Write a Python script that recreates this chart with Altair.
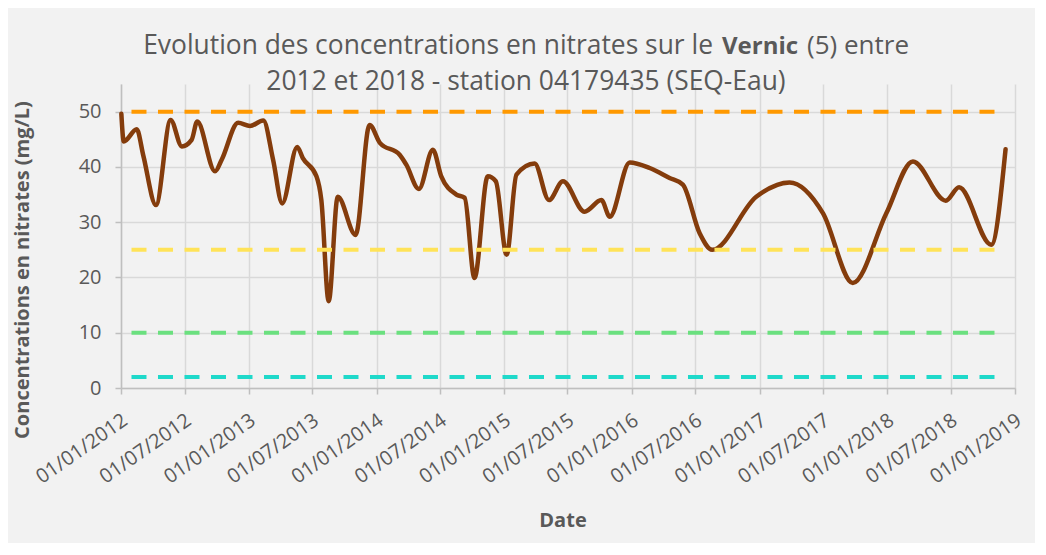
import altair as alt
import pandas as pd

# ---- data ----
dates = [
    "2012-01-02", "2012-01-09", "2012-02-15", "2012-03-05", "2012-04-10", "2012-05-22",
    "2012-06-23", "2012-07-21", "2012-08-06", "2012-09-26", "2012-10-15", "2012-12-01",
    "2013-01-04", "2013-02-11", "2013-03-11", "2013-04-06", "2013-05-19", "2013-06-04",
    "2013-07-13", "2013-07-27", "2013-08-17", "2013-09-12", "2013-11-02", "2013-12-12",
    "2014-01-11", "2014-03-08", "2014-03-27", "2014-05-02", "2014-06-11", "2014-07-05",
    "2014-08-17", "2014-09-10", "2014-10-08", "2014-11-15", "2014-12-08", "2015-01-08",
    "2015-02-05", "2015-03-29", "2015-05-09", "2015-06-18", "2015-08-19", "2015-10-06",
    "2015-10-30", "2015-12-26", "2016-02-21", "2016-04-18", "2016-05-26", "2016-07-13",
    "2016-08-18", "2016-12-22", "2017-03-27", "2017-07-01", "2017-09-24", "2017-12-29",
    "2018-03-15", "2018-06-17", "2018-07-25", "2018-10-25", "2018-12-05",
]
nitrates = [
    49.6, 44.6, 46.8, 42.0, 33.1, 48.5,
    43.7, 44.9, 48.2, 39.2, 41.3, 48.0,
    47.4, 48.4, 41.3, 33.4, 43.6, 41.6,
    38.3, 34.0, 15.7, 34.6, 27.7, 47.6,
    44.3, 42.2, 40.4, 36.0, 43.1, 38.3,
    35.0, 34.4, 19.9, 38.3, 37.4, 24.1,
    38.6, 40.6, 34.0, 37.4, 31.9, 34.0,
    31.0, 40.8, 39.8, 38.0, 36.8, 28.0,
    25.0, 34.6, 37.2, 31.6, 19.0, 31.6,
    41.0, 33.9, 36.3, 25.9, 43.2,
]

threshold_names = ["50 mg/L", "25 mg/L", "10 mg/L", "2 mg/L"]
threshold_values = [50, 25, 10, 2]
threshold_colors = ["#FF9900", "#FFE358", "#6BE07F", "#1FD9CA"]
threshold_start = "2012-01-31"
threshold_end = "2018-11-08"

x_tick_years_months = [(y, m) for y in range(2012, 2019) for m in (1, 7)] + [(2019, 1)]
y_tick_values = [0, 5, 10, 15, 20, 25, 30, 35, 40, 45, 50, 55]

title_part1 = "Evolution des concentrations en nitrates sur le"
title_bold = "Vernic"
title_part3 = "(5) entre"
title_line2 = "2012 et 2018 - station 04179435 (SEQ-Eau)"
y_title = "Concentrations en nitrates (mg/L)"
x_title = "Date"

FONT = "Open Sans"
GREY = "#595959"

df = pd.DataFrame({"date": dates, "value": nitrates})
thr = pd.DataFrame({
    "name": threshold_names,
    "value": threshold_values,
    "start": [threshold_start] * 4,
    "end": [threshold_end] * 4,
})

x_scale = alt.Scale(
    type="utc",
    domain=[alt.DateTime(year=2012, month=1, date=1, utc=True),
            alt.DateTime(year=2019, month=1, date=1, utc=True)],
    nice=False,
)
y_scale = alt.Scale(domain=[0, 55], nice=False, zero=True)

x_axis = alt.Axis(
    values=[alt.DateTime(year=y, month=m, date=1, utc=True) for y, m in x_tick_years_months],
    labelExpr="utcFormat(datum.value, '%d/%m/%Y')",
    labelAngle=325, labelAlign="right", labelBaseline="middle",
    labelFont=FONT, labelFontSize=20, labelColor=GREY,
    labelPadding=24, labelOffset=4, labelFlush=False, labelOverlap=False, labelBound=False,
    tickSize=6, tickColor="#BFBFBF", tickWidth=1.5,
    domainColor="#BFBFBF", domainWidth=1.5,
    grid=True, gridColor="#D9D9D9", gridWidth=1.5,
    title=None,
)
y_axis = alt.Axis(
    values=y_tick_values,
    labelExpr="(datum.value % 10 === 0 && datum.value <= 50) ? datum.label : ''",
    labelFont=FONT, labelFontSize=20, labelColor=GREY, labelPadding=14,
    tickSize=6, tickColor="#BFBFBF", tickWidth=1.5,
    domainColor="#BFBFBF", domainWidth=1.5,
    grid=True, gridColor="#D9D9D9", gridWidth=1.5,
    gridOpacity={"condition": {"test": "datum.value % 10 === 0 && datum.value <= 50", "value": 1}, "value": 0},
    title=None,
)

line = alt.Chart(df).mark_line(
    interpolate="monotone", color="#843C0C", strokeWidth=4.5,
    strokeCap="round", strokeJoin="round",
).encode(
    x=alt.X("date:T", scale=x_scale, axis=x_axis),
    y=alt.Y("value:Q", scale=y_scale, axis=y_axis),
)

rules = alt.Chart(thr).mark_rule(strokeWidth=4, strokeDash=[15, 11.5]).encode(
    x="start:T", x2="end:T", y="value:Q",
    color=alt.Color("name:N", scale=alt.Scale(domain=threshold_names, range=threshold_colors), legend=None),
)


def label(text, x, y, size, bold=False, align="center", angle=0, baseline="middle"):
    kw = dict(font=FONT, fontSize=size, color=GREY, align=align, baseline=baseline,
              fontWeight="bold" if bold else "normal")
    if angle:
        kw["angle"] = angle
    return alt.Chart(pd.DataFrame({"t": [text]})).mark_text(**kw).encode(
        text="t:N", x=alt.value(x), y=alt.value(y))


texts = [
    label(title_part1, 592, -30, 26.4, align="right", baseline="alphabetic"),
    label(title_bold, 601, -30, 24, bold=True, align="left", baseline="alphabetic"),
    label(title_part3, 686, -30, 26, align="left", baseline="alphabetic"),
    label(title_line2, 405, 6, 26.4, baseline="alphabetic"),
    label(y_title, -98, 186, 20, bold=True, angle=270),
    label(x_title, 442, 437, 20, bold=True),
]

chart = alt.layer(line, rules, *texts).properties(
    width=894, height=304,
    autosize=alt.AutoSizeParams(type="none"),
    padding={"left": 113, "top": 76, "right": 20, "bottom": 155},
    background="#F2F2F2",
).configure_view(stroke=None)

chart.save("out.html", embed_options={"renderer": "svg", "actions": False})
